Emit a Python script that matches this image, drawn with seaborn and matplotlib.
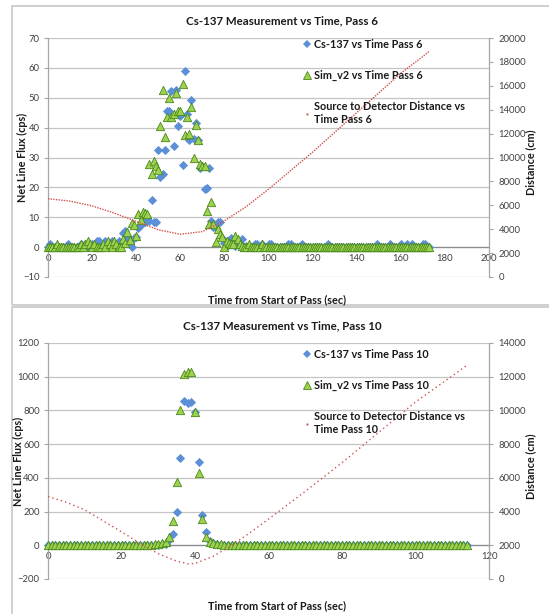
import numpy as np
import pandas as pd
import matplotlib
matplotlib.use("Agg")
import matplotlib.pyplot as plt
import seaborn as sns
from matplotlib.lines import Line2D
from matplotlib.patches import Rectangle

# ---------------- data: Pass 6 ----------------
time_pass6 = list(range(0, 174))
cs137_pass6 = ([0, 1, 0, 0, 0, 0, 0, 0, 0, 1, 0, 0, 0, 0, 0, 1, 0, 1, 0, 0,
                1, 0, 2, 2, 0, 1, 2, 0, 1, 2, 0, 1, 2, 1]
               + [4.6, 5.4, 3.5, 1.5, 0, 3, 3.5, 6.5, 7.5, 9.5]
               + [8.5, 10, 8.8, 15.7, 8.4, 8.5, 32.6, 23.6, 24.6, 32.6,
                  45.6, 45.6, 52.3, 33.7, 52.6, 40.6, 44, 27.5, 59, 44.7,
                  36, 49.2, 36.1, 41.5, 35.8, 26.6, 27, 19.3, 19.7, 26.6,
                  8.8, 6.8, 6.5, 8.4, 8.5, 3]
               + [1.5, 0.5, 2, 3, 1, 0.5, 2, 1, 2.8, 0, 0.5, 0, 0, 0, 1, 1, 0, 1, 0, 0]
               + [1, 1, 0, 0, 0, 0, 0, 0, 0, 1,
                  1, 0, 0, 0, 0, 1, 0, 0, 0, 0,
                  0, 0, 0, 0, 0, 0, 0, 1, 0, 0,
                  0, 0, 0, 0, 0, 0, 0, 0, 0, 0,
                  0, 0, 0, 0, 0, 0, 0, 0, 0, 1,
                  0, 0, 0, 0, 0, 1, 0, 0, 0, 0,
                  1, 0, 0, 1, 0, 1, 0, 0, 0, 0,
                  1, 1, 0, 0])
sim_pass6 = ([0, 0, 0, 0, 1, 0, 0, 0, 0, 0, 0, 0, 0, 0, 0, 1, 0, 1, 2, 1,
              0, 1, 0, 0, 0, 1, 0, 2, 1, 0, 2, 1, 0, 0]
             + [2.6, 1.5, 4.9, 2.5, 8.2, 7.4, 3.7, 11, 9.1, 11.9, 11.4, 11]
             + [27.8, 24.6, 28.9, 27.2, 25.7, 40.6, 52.6, 36.7, 43.4, 49.8,
                43.4, 44.5, 51.6, 45.7, 45.5, 54.6, 37.6, 43.4, 37.8, 47,
                30, 41, 35.8, 27.8, 27, 27, 12, 7.9, 15, 7.6,
                1.8, 6.2, 4.3, 3.4, 0]
             + [2, 1.5, 1, 1, 3.7, 2.6, 1, 0.3, 0, 0, 1, 0, 0, 0, 0, 0, 1, 0, 0]
             + [0] * 74)
dist_time_pass6 = [0, 10, 20, 30, 40, 50, 60, 70, 80, 90, 100, 110, 120, 130,
                   140, 150, 160, 170, 173]
dist_pass6 = [6550, 6350, 5950, 5350, 4650, 3950, 3580, 3800, 4700, 5900, 7350,
              8900, 10450, 12100, 13750, 15400, 17050, 18450, 18900]

# ---------------- data: Pass 10 ----------------
time_pass10 = list(range(0, 115))
cs137_pass10 = ([0] * 30
                + [3, 5, 10, 30, 67, 199, 515, 857, 845, 851, 788, 492, 180, 81,
                   25, 12, 6, 3]
                + [0] * 67)
sim_pass10 = ([0] * 28
              + [4, 6, 8, 12, 20, 51, 144, 374, 802, 1016, 1029, 1025, 789, 427,
                 156, 49, 22, 14, 8, 5, 3, 2]
              + [0] * 65)
dist_time_pass10 = [0, 5, 10, 15, 20, 25, 30, 35, 38, 40, 45, 50, 55, 60, 70,
                    80, 90, 100, 110, 114]
dist_pass10 = [4890, 4550, 4100, 3450, 2800, 2120, 1500, 1060, 900, 920, 1350,
               2000, 2750, 3550, 5200, 6900, 8700, 10500, 12050, 12680]

# ---------------- style ----------------
sns.set_style("white")
plt.rcParams["font.family"] = ["Lato", "DejaVu Sans"]

BLUE = "#5B8FD8"
GREEN = "#9ED24E"
GREEN_EDGE = "#4A8A1C"
RED = "#D0504D"
GRID = "#C4C4C4"
SPINE = "#A6A6A6"
TXT = "#404040"

W, H = 549, 614
fig = plt.figure(figsize=(W / 100, H / 100), dpi=100)


def fx(px):
    return px / W


def fy(py):
    return 1 - py / H


# chart-area frames
for (y0, y1) in [(6, 305), (307, 640)]:
    fig.add_artist(Rectangle((fx(12), fy(y1)), fx(600), (y1 - y0) / H,
                             transform=fig.transFigure, fill=False,
                             edgecolor="#CCCCCC", lw=1.3))


def panel(top, bottom, t, cs, sim, dt, dist, ylim, ystep, y2lim, y2step,
          xlim, xstep, title, pass_no, title_y, xlabel_y, leg_top, dots,
          ylab_x):
    ax = fig.add_axes([fx(48), fy(bottom), fx(489 - 48), (bottom - top) / H])
    ax2 = ax.twinx()

    sns.scatterplot(x=t, y=cs, marker="D", color=BLUE, s=22, linewidth=0,
                    ax=ax, legend=False, clip_on=False, zorder=3)
    sns.scatterplot(x=t, y=sim, marker="^", color=GREEN, s=36,
                    edgecolor=GREEN_EDGE, linewidth=0.6, ax=ax, legend=False,
                    clip_on=False, zorder=4)
    sns.lineplot(x=dt, y=dist, ax=ax2, color=RED, linewidth=1.0,
                 linestyle=(0, dots), legend=False)

    ax.set_xlim(*xlim)
    ax.set_ylim(*ylim)
    ax.set_xticks(np.arange(xlim[0], xlim[1] + 1, xstep))
    ax.set_yticks(np.arange(ylim[0], ylim[1] + 1, ystep))
    ax2.set_ylim(*y2lim)
    ax2.set_yticks(np.arange(y2lim[0], y2lim[1] + 1, y2step))
    ax.set_xlabel("")
    ax.set_ylabel("")
    ax2.set_ylabel("")

    ax.set_axisbelow(True)
    ax.yaxis.grid(True, color=GRID, lw=0.9)
    ax.xaxis.grid(False)

    for s in ["top", "right"]:
        ax.spines[s].set_visible(False)
    for s in ["top", "left", "bottom"]:
        ax2.spines[s].set_visible(False)
    ax.spines["left"].set_color(SPINE)
    ax.spines["left"].set_linewidth(0.9)
    ax.spines["bottom"].set_position(("data", 0))
    ax.spines["bottom"].set_color("#8C8C8C")
    ax.spines["bottom"].set_linewidth(0.9)
    ax2.spines["right"].set_color(SPINE)
    ax2.spines["right"].set_linewidth(0.9)

    ax.tick_params(axis="x", direction="out", length=3, width=0.8,
                   color="#8C8C8C", labelsize=6.8, labelcolor=TXT, pad=2)
    ax.tick_params(axis="y", direction="out", length=3, width=0.8,
                   color=SPINE, labelsize=6.8, labelcolor=TXT, pad=3)
    ax2.tick_params(axis="y", direction="out", length=3, width=0.8,
                    color=SPINE, labelsize=6.8, labelcolor=TXT, pad=4)

    fig.text(fx(282), fy(title_y), title, ha="center", va="center",
             fontsize=8.3, fontweight="bold", color="#1A1A1A")
    fig.text(fx(277), fy(xlabel_y), "Time from Start of Pass (sec)",
             ha="center", va="center", fontsize=7.8, fontweight="bold",
             color="#1A1A1A")
    fig.text(fx(ylab_x), fy((top + bottom) / 2), "Net Line Flux (cps)",
             rotation=90, ha="center", va="center", fontsize=7.8,
             fontweight="bold", color="#1A1A1A")
    fig.text(fx(531), fy((top + bottom) / 2 + 5), "Distance (cm)",
             rotation=90, ha="center", va="center", fontsize=7.8,
             fontweight="bold", color="#1A1A1A")

    handles = [
        Line2D([], [], marker="D", ls="none", color=BLUE, ms=4.4, mew=0),
        Line2D([], [], marker="^", ls="none", color=GREEN, mec=GREEN_EDGE,
               ms=5.8, mew=0.6),
        Line2D([], [], marker="s", ls="none", color=RED, ms=1.4, mew=0),
    ]
    labels = [f"Cs-137 vs Time Pass {pass_no}",
              f"Sim_v2 vs Time Pass {pass_no}",
              f"Source to Detector Distance vs\nTime Pass {pass_no}"]
    fig.legend(handles, labels, loc="upper left",
               bbox_to_anchor=(fx(303), fy(leg_top)), frameon=False,
               prop=dict(weight="bold", size=7.8), labelspacing=1.85,
               handletextpad=0.35, handlelength=0.7, borderaxespad=0,
               borderpad=0, labelcolor="#1A1A1A")
    return ax, ax2


panel(38, 277, time_pass6, cs137_pass6, sim_pass6, dist_time_pass6,
      dist_pass6, (-10, 70), 10, (0, 20000), 2000, (0, 200), 20,
      "Cs-137 Measurement vs Time, Pass 6", 6, 21, 300, 39, (1, 0.9), 22)
panel(343, 579, time_pass10, cs137_pass10, sim_pass10, dist_time_pass10,
      dist_pass10, (-200, 1200), 200, (0, 14000), 2000, (0, 120), 20,
      "Cs-137 Measurement vs Time, Pass 10", 10, 326, 606, 349, (1, 2.2), 18)

fig.savefig("out.png", dpi=100)
